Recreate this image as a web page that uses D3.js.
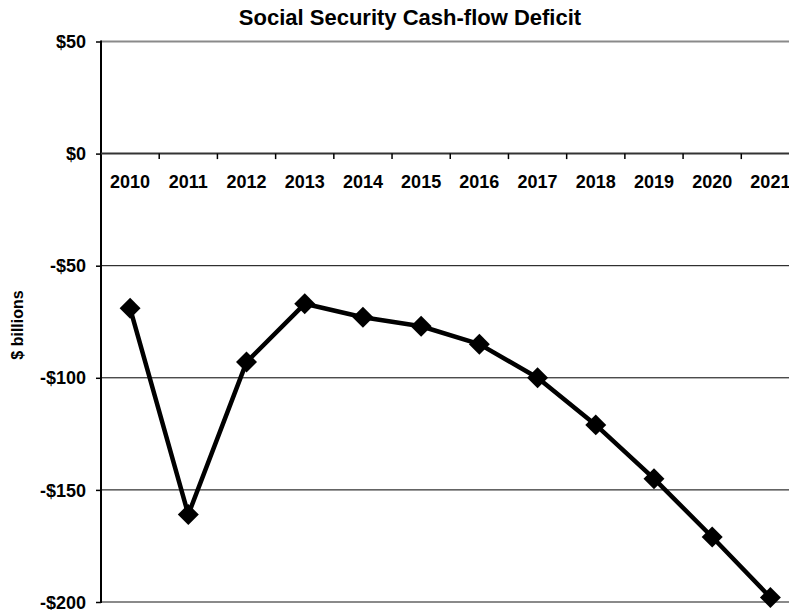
<!DOCTYPE html>
<html>
<head>
<meta charset="utf-8">
<script src="https://cdn.jsdelivr.net/npm/d3@7"></script>
<style>
  body { margin: 0; background: #fff; }
  text { font-family: 'Liberation Sans', Arial, sans-serif; font-weight: bold; fill: #000; }
</style>
</head>
<body>
<svg id="chart" width="789" height="610"></svg>
<script>
const years = ['2010', '2011', '2012', '2013', '2014', '2015', '2016', '2017', '2018', '2019', '2020', '2021'];
const deficit = [-69, -161, -93, -67, -73, -77, -85, -100, -121, -145, -171, -198];
const yTicks = [50, 0, -50, -100, -150, -200];
const yTickLabels = ['$50', '$0', '-$50', '-$100', '-$150', '-$200'];

const svg = d3.select('#chart');

const plotLeft = 101, plotRight = 799.5, plotTop = 41.5, plotBottom = 602;

const x = d3.scaleBand()
  .domain(years)
  .range([plotLeft, plotRight])
  .padding(0);

const y = d3.scaleLinear()
  .domain([-200, 50])
  .range([plotBottom, plotTop]);

// gridlines (inner ones black, plot border gray)
svg.append('g')
  .selectAll('line')
  .data(yTicks.filter(d => d !== 0))
  .join('line')
    .attr('x1', plotLeft)
    .attr('x2', plotRight)
    .attr('y1', d => y(d))
    .attr('y2', d => y(d))
    .attr('stroke', d => (d === 50 || d === -200) ? '#8a8a8a' : '#000')
    .attr('stroke-width', d => (d === 50 || d === -200) ? 2 : 1);

// y axis
const yAxis = svg.append('g')
  .attr('transform', `translate(${plotLeft},0)`)
  .call(d3.axisLeft(y)
    .tickValues(yTicks)
    .tickSize(5)
    .tickPadding(10)
    .tickFormat((d, i) => yTickLabels[i]));
yAxis.select('.domain').remove();
yAxis.selectAll('.tick line').attr('stroke', '#000').attr('stroke-width', 1.5);
yAxis.selectAll('.tick text')
  .style('font-size', '18px')
  .attr('dy', '0.34em');
yAxis.append('line')
  .attr('y1', plotTop - 1)
  .attr('y2', plotBottom + 1)
  .attr('stroke', '#000')
  .attr('stroke-width', 2);

// zero line with category ticks
const zero = svg.append('g');
zero.append('line')
  .attr('x1', plotLeft)
  .attr('x2', plotRight)
  .attr('y1', y(0))
  .attr('y2', y(0))
  .attr('stroke', '#333')
  .attr('stroke-width', 2);
zero.selectAll('.cat-tick')
  .data(years.slice(1))
  .join('line')
    .attr('class', 'cat-tick')
    .attr('x1', d => x(d))
    .attr('x2', d => x(d))
    .attr('y1', y(0))
    .attr('y2', y(0) + 5.5)
    .attr('stroke', '#000')
    .attr('stroke-width', 1.5);
zero.selectAll('.cat-label')
  .data(years)
  .join('text')
    .attr('class', 'cat-label')
    .attr('x', d => x(d) + x.bandwidth() / 2)
    .attr('y', y(0) + 34)
    .attr('text-anchor', 'middle')
    .style('font-size', '18px')
    .text(d => d);

// series
const pts = years.map((yr, i) => ({ yr, v: deficit[i] }));
const line = d3.line()
  .x(d => x(d.yr) + x.bandwidth() / 2)
  .y(d => y(d.v));

svg.append('path')
  .datum(pts)
  .attr('d', line)
  .attr('fill', 'none')
  .attr('stroke', '#000')
  .attr('stroke-width', 4.5)
  .attr('stroke-linejoin', 'round');

const diamond = d3.symbol().type(d3.symbolSquare).size(220);
svg.append('g')
  .selectAll('path')
  .data(pts)
  .join('path')
    .attr('d', diamond)
    .attr('transform', d => `translate(${x(d.yr) + x.bandwidth() / 2},${y(d.v)}) rotate(45)`)
    .attr('fill', '#000');

// title and axis label
svg.append('text')
  .attr('x', 410)
  .attr('y', 25)
  .attr('text-anchor', 'middle')
  .style('font-size', '22px')
  .text('Social Security Cash-flow Deficit');

svg.append('text')
  .attr('transform', 'translate(23,325) rotate(-90)')
  .attr('text-anchor', 'middle')
  .style('font-size', '16px')
  .text('$ billions');
</script>
</body>
</html>
